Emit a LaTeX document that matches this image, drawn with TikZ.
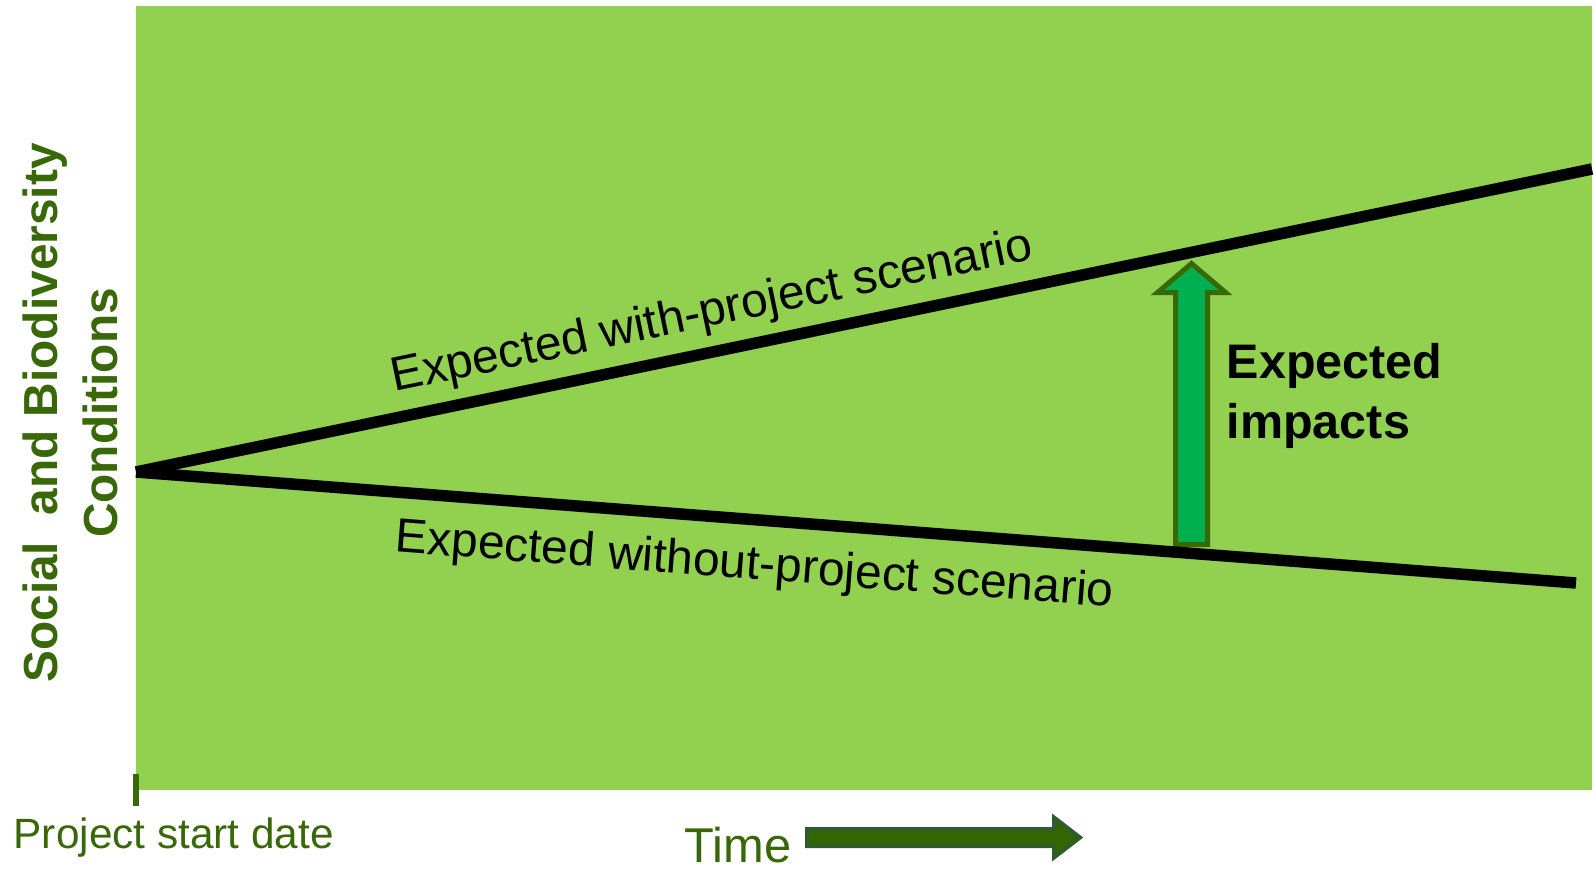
\documentclass[tikz,border=0pt]{standalone}
\usepackage{fontspec}
\setmainfont{Liberation Sans}
\usepackage{tikz}
\usetikzlibrary{calc}
\definecolor{meadowgreen}{RGB}{146,208,80}
\definecolor{darkleaf}{RGB}{56,104,8}
\definecolor{impactgreen}{RGB}{0,176,80}
\definecolor{timefill}{RGB}{51,102,0}
\definecolor{timeedge}{RGB}{46,92,42}
\tikzstyle{meadow}=[fill=meadowgreen]
\tikzstyle{scenario}=[line width=0.115cm, black]
\tikzstyle{leaftext}=[text=darkleaf, inner sep=0pt]
\tikzstyle{linetext}=[sloped, font=\fontsize{13.65}{16}\selectfont]

\begin{document}
\begin{tikzpicture}
	\useasboundingbox (0,0) rectangle (15.94,8.68);
	\fill[meadow] (1.36,0.78) rectangle (15.92,8.62);
	\coordinate (start) at (1.36,3.96);
	\coordinate (withend) at (15.92,6.99);
	\coordinate (withoutend) at (15.76,2.85);
	% impact arrow between the two scenarios
	\filldraw[fill=impactgreen, draw=darkleaf, line width=0.05cm] (11.755,3.235) -- (11.755,5.755) -- (11.575,5.755) -- (11.915,6.045) -- (12.255,5.755) -- (12.075,5.755) -- (12.075,3.235) -- cycle;
	\draw[scenario] (start) -- node[linetext, above, pos=0.401, inner sep=0.10cm] (withlabel) {Expected with-project scenario} (withend);
	\draw[scenario] (start) -- node[linetext, below, pos=0.432, inner sep=0.19cm] (withoutlabel) {Expected without-project scenario} (withoutend);
	\node[anchor=base west, align=left, inner sep=0pt, font=\bfseries\fontsize{13.8}{16.8}\selectfont] (impactlabel) at (12.26,4.30) {Expected\\impacts};
	% axes
	\node[leaftext, rotate=90, anchor=base, align=center, font=\bfseries\fontsize{13.6}{16.8}\selectfont] (ylabel) at (1.17,4.55) {Social\ \ and Biodiversity\\Conditions};
	\draw[darkleaf, line width=0.06cm] (1.36,0.62) -- (1.36,0.94);
	\node[leaftext, anchor=base west, font=\fontsize{12.05}{14}\selectfont] (startdate) at (0.13,0.20) {Project start date};
	\node[leaftext, anchor=base west, font=\fontsize{13.9}{16}\selectfont] (time) at (6.84,0.06) {Time};
	\filldraw[fill=timefill, draw=timeedge, line width=0.04cm] (8.07,0.22) -- (10.54,0.22) -- (10.54,0.105) -- (10.80,0.305) -- (10.54,0.505) -- (10.54,0.39) -- (8.07,0.39) -- cycle;
\end{tikzpicture}
\end{document}
